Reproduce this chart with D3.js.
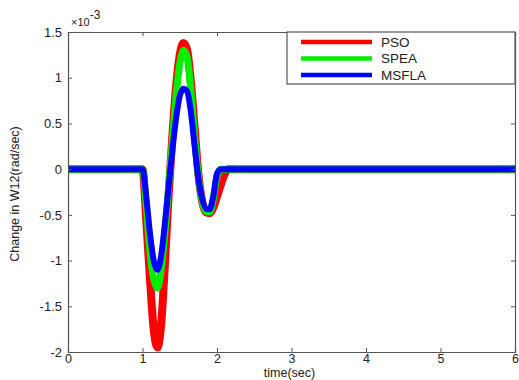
<!DOCTYPE html>
<html>
<head>
<meta charset="utf-8">
<script src="https://d3js.org/d3.v7.min.js"></script>
<style>
  body { margin: 0; background: #fff; }
  svg { display: block; font-family: "Liberation Sans", Arial, sans-serif; }
</style>
</head>
<body>
<div id="chart"></div>
<script>
// time samples (sec) and responses (x 1e-3 rad/sec)
const time = [0, 1.0, 1.05, 1.1, 1.15, 1.2, 1.25, 1.3, 1.35, 1.4, 1.45, 1.5, 1.55, 1.6, 1.65, 1.7, 1.75, 1.8, 1.85, 1.9, 1.95, 2.0, 2.05, 2.1, 2.15, 6];
const pso   = [0, 0, -0.55, -1.2, -1.75, -1.95, -1.7, -1.05, -0.3, 0.35, 0.9, 1.25, 1.38, 1.3, 0.95, 0.45, -0.05, -0.35, -0.47, -0.48, -0.42, -0.3, -0.17, -0.06, 0, 0];
const spea  = [0, 0, -0.4, -0.9, -1.2, -1.3, -1.1, -0.7, -0.2, 0.3, 0.8, 1.15, 1.3, 1.22, 0.85, 0.35, -0.08, -0.35, -0.46, -0.47, -0.33, -0.08, 0, 0, 0, 0];
const msfla = [0, 0, -0.3, -0.7, -1.0, -1.1, -0.95, -0.6, -0.2, 0.2, 0.55, 0.8, 0.88, 0.85, 0.62, 0.25, -0.1, -0.32, -0.43, -0.44, -0.3, -0.05, 0, 0, 0, 0];
const seriesNames = ["PSO", "SPEA", "MSFLA"];
const seriesColors = ["#ff0000", "#00ee00", "#0000ff"];
const xTicks = [0, 1, 2, 3, 4, 5, 6];
const yTicks = [-2, -1.5, -1, -0.5, 0, 0.5, 1, 1.5];

const width = 519, height = 380;
const margin = {top: 32, right: 4, bottom: 28, left: 68};

const svg = d3.select("#chart").append("svg")
    .attr("width", width)
    .attr("height", height);

const x = d3.scaleLinear().domain([0, 6]).range([margin.left, width - margin.right]);
const y = d3.scaleLinear().domain([-2, 1.5]).range([height - margin.bottom, margin.top]);

const frameColor = "#555";

// lines
const line = d3.line()
    .x((d, i) => x(time[i]))
    .y(d => y(d))
    .curve(d3.curveMonotoneX);

const series = [pso, spea, msfla];
const widths = [8, 7, 6];
svg.append("g")
  .selectAll("path")
  .data(series)
  .join("path")
    .attr("fill", "none")
    .attr("stroke", (d, i) => seriesColors[i])
    .attr("stroke-width", (d, i) => widths[i])
    .attr("stroke-linejoin", "round")
    .attr("d", line);

// axes (ticks inward, mirrored on top/right)
const fontSize = 13;
const xAxis = svg.append("g")
    .attr("transform", `translate(0,${y(-2)})`)
    .call(d3.axisBottom(x).tickValues(xTicks).tickSize(-4).tickPadding(2).tickFormat(d3.format("d")));
const yAxis = svg.append("g")
    .attr("transform", `translate(${x(0)},0)`)
    .call(d3.axisLeft(y).tickValues(yTicks).tickSize(-4).tickPadding(6).tickFormat(d => d));
const xTop = svg.append("g")
    .attr("transform", `translate(0,${y(1.5)})`)
    .call(d3.axisTop(x).tickValues(xTicks).tickSize(-4).tickFormat(""));
const yRight = svg.append("g")
    .attr("transform", `translate(${x(6)},0)`)
    .call(d3.axisRight(y).tickValues(yTicks).tickSize(-4).tickFormat(""));

[xAxis, yAxis, xTop, yRight].forEach(g => {
  g.select(".domain").attr("stroke", frameColor).attr("stroke-width", 1.2);
  g.selectAll(".tick line").attr("stroke", frameColor);
  g.selectAll("text").attr("font-size", fontSize).attr("fill", "#222")
    .attr("font-family", "Liberation Sans, Arial, sans-serif");
});
xAxis.selectAll("text").attr("font-size", 12.5);

// exponent label
const expo = svg.append("text")
    .attr("x", x(0) + 3)
    .attr("y", y(1.5) - 6)
    .attr("font-size", 11)
    .attr("fill", "#222");
expo.append("tspan").text("\u00d710");
expo.append("tspan").attr("dy", -7).attr("font-size", 12).text("-3");

// axis titles
svg.append("text")
    .attr("x", (x(0) + x(6)) / 2 - 2)
    .attr("y", 377)
    .attr("text-anchor", "middle")
    .attr("font-size", 12.5)
    .attr("fill", "#222")
    .text("time(sec)");

svg.append("text")
    .attr("transform", `translate(19,${(y(-2) + y(1.5)) / 2 + 2}) rotate(-90)`)
    .attr("text-anchor", "middle")
    .attr("font-size", 12.5)
    .attr("fill", "#222")
    .text("Change in W12(rad/sec)");

// legend
const lx = 287, ly = y(1.5), lw = x(6) - lx, lh = 52;
const legend = svg.append("g");
legend.append("rect")
    .attr("x", lx).attr("y", ly)
    .attr("width", lw).attr("height", lh)
    .attr("fill", "#fff")
    .attr("stroke", frameColor)
    .attr("stroke-width", 1.2);
const item = legend.selectAll("g.item")
  .data(seriesNames)
  .join("g")
    .attr("class", "item")
    .attr("transform", (d, i) => `translate(0,${ly + 10 + i * 16.5})`);
item.append("line")
    .attr("x1", lx + 14).attr("x2", lx + 85)
    .attr("stroke", (d, i) => seriesColors[i])
    .attr("stroke-width", 4.5);
item.append("text")
    .attr("x", lx + 94)
    .attr("dy", "0.35em")
    .attr("font-size", 13.5)
    .attr("fill", "#222")
    .text(d => d);
</script>
</body>
</html>
